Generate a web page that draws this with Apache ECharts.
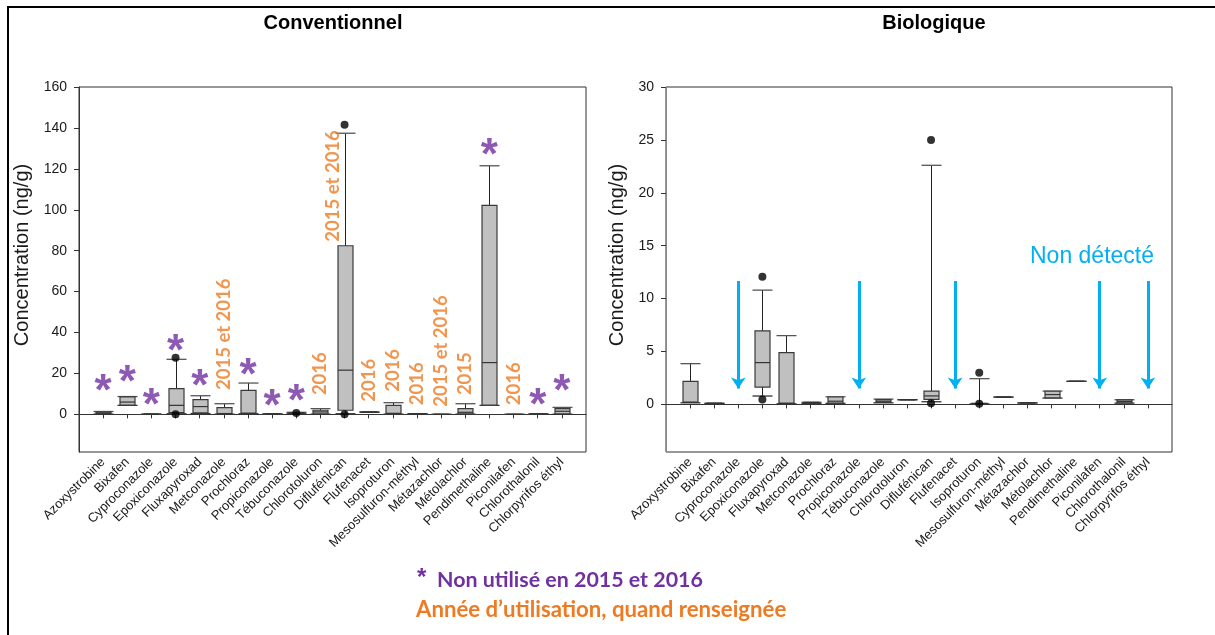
<!DOCTYPE html>
<html>
<head>
<meta charset="utf-8">
<script src="https://cdn.jsdelivr.net/npm/echarts@6/dist/echarts.min.js"></script>
<style>
  html, body { margin: 0; padding: 0; background: #fff; }
  #chart { width: 1215px; height: 635px; }
</style>
</head>
<body>
<div id="chart"></div>
<script>
// molécules, dans l'ordre de l'axe
var molecules = ['Azoxystrobine', 'Bixafen', 'Cyproconazole', 'Epoxiconazole', 'Fluxapyroxad',
  'Metconazole', 'Prochloraz', 'Propiconazole', 'Tébuconazole', 'Chlorotoluron', 'Diflufénican',
  'Flufenacet', 'Isoproturon', 'Mesosulfuron-méthyl', 'Métazachlor', 'Métolachlor',
  'Pendimethaline', 'Piconilafen', 'Chlorothalonil', 'Chlorpyrifos éthyl']

// [min, q1, médiane, q3, max] en ng/g
var convStats = [
  [0.1, 0.3, 0.6, 1.1, 1.4],
  [4.4, 4.5, 6.0, 8.5, 8.7],
  [0.1, 0.1, 0.1, 0.1, 0.1],
  [0.3, 0.8, 4.4, 12.6, 26.9],
  [0.4, 0.7, 3.8, 7.2, 9.1],
  [0.1, 0.2, 0.4, 3.3, 5.2],
  [0.3, 0.4, 0.6, 11.7, 15.3],
  [0.2, 0.2, 0.2, 0.2, 0.2],
  [0.3, 0.4, 0.6, 0.8, 1.0],
  [0.1, 0.3, 1.2, 2.0, 2.8],
  [0.3, 2.0, 21.6, 82.4, 137.4],
  [1.0, 1.0, 1.1, 1.2, 1.2],
  [0.1, 0.2, 0.5, 4.4, 5.7],
  [0.3, 0.3, 0.3, 0.3, 0.3],
  [0.0, 0.0, 0.0, 0.0, 0.0],
  [0.1, 0.2, 1.0, 2.8, 5.2],
  [4.4, 4.5, 25.3, 102.1, 121.5],
  [0.0, 0.0, 0.0, 0.0, 0.0],
  [0.1, 0.1, 0.2, 0.3, 0.3],
  [0.1, 0.3, 1.5, 2.8, 3.4]
]
var convOutliers = [['Epoxiconazole', 27.7], ['Epoxiconazole', 0.1], ['Tébuconazole', 0.7],
  ['Diflufénican', 141.5], ['Diflufénican', 0.0]]

// null = non détecté
var bioStats = [
  [0.15, 0.18, 0.22, 2.18, 3.85],
  [0.1, 0.1, 0.1, 0.1, 0.1],
  null,
  [0.79, 1.64, 3.95, 6.95, 10.8],
  [0.06, 0.08, 0.12, 4.9, 6.5],
  [0.1, 0.1, 0.15, 0.2, 0.2],
  [0.1, 0.12, 0.3, 0.7, 0.72],
  null,
  [0.15, 0.2, 0.3, 0.45, 0.5],
  [0.44, 0.44, 0.44, 0.44, 0.44],
  [0.25, 0.47, 0.8, 1.26, 22.6],
  null,
  [0.05, 0.06, 0.08, 0.1, 2.43],
  [0.69, 0.69, 0.69, 0.69, 0.69],
  [0.14, 0.14, 0.14, 0.14, 0.14],
  [0.6, 0.62, 0.93, 1.24, 1.26],
  [2.18, 2.18, 2.18, 2.18, 2.18],
  null,
  [0.12, 0.14, 0.28, 0.42, 0.44],
  null
]
var bioOutliers = [['Epoxiconazole', 12.06], ['Epoxiconazole', 0.47], ['Diflufénican', 25.0],
  ['Diflufénican', 0.1], ['Isoproturon', 3.0], ['Isoproturon', 0.05]]

// annotations
var unusedCats = ['Azoxystrobine', 'Bixafen', 'Cyproconazole', 'Epoxiconazole', 'Fluxapyroxad',
  'Prochloraz', 'Propiconazole', 'Tébuconazole', 'Pendimethaline', 'Chlorothalonil', 'Chlorpyrifos éthyl']
var unusedY = [15.2, 20, 8.6, 34.7, 17.6, 23, 8.3, 10.3, 130.9, 8.6, 15.2]

var yearCats = ['Metconazole', 'Chlorotoluron', 'Diflufénican', 'Flufenacet', 'Isoproturon',
  'Mesosulfuron-méthyl', 'Métazachlor', 'Métolachlor', 'Piconilafen']
var yearY = [11.9, 9.4, 84.4, 6.2, 11.0, 4.5, 3.7, 9.4, 4.5]
var yearText = ['2015 et 2016', '2016', '2015 et 2016', '2016', '2016', '2016', '2015 et 2016', '2015', '2016']

var notDetected = ['Cyproconazole', 'Propiconazole', 'Flufenacet', 'Piconilafen', 'Chlorpyrifos éthyl']
var arrowTop = 11.67
var arrowTip = 1.51

var convTicks = [0, 20, 40, 60, 80, 100, 120, 140, 160]
var bioTicks = [0, 5, 10, 15, 20, 25, 30]

// deux catégories vides aux bords pour le décalage du cadre
var axisCats = [' '].concat(molecules, ['  '])

var purple = '#7030A0'
var orange = '#EE7A22'
var blue = '#00B0F0'

function boxData(stats) {
  var out = []
  stats.forEach(function (s, i) {
    if (s) out.push([molecules[i]].concat(s))
  })
  return out
}

function renderBox(params, api) {
  var x = api.value(0)
  var p = [1, 2, 3, 4, 5].map(function (d) { return api.coord([x, api.value(d)]) })
  var cx = Math.round(p[0][0]) + 0.5
  var half = 7.5
  var cap = 10
  return {
    type: 'group',
    children: [
      { type: 'line', shape: { x1: cx, y1: p[4][1], x2: cx, y2: p[0][1] }, style: { stroke: '#222', lineWidth: 1 } },
      { type: 'line', shape: { x1: cx - cap, y1: p[4][1], x2: cx + cap, y2: p[4][1] }, style: { stroke: '#555', lineWidth: 1.3 } },
      { type: 'line', shape: { x1: cx - cap, y1: p[0][1], x2: cx + cap, y2: p[0][1] }, style: { stroke: '#333', lineWidth: 1.3 } },
      {
        type: 'rect',
        shape: { x: cx - half, y: p[3][1], width: half * 2, height: Math.max(p[1][1] - p[3][1], 0) },
        style: { fill: '#C0C0C0', stroke: '#3a3a3a', lineWidth: 1.2 }
      },
      { type: 'line', shape: { x1: cx - half, y1: p[2][1], x2: cx + half, y2: p[2][1] }, style: { stroke: '#333', lineWidth: 1.2 } }
    ]
  }
}

function catAxis(gridIndex) {
  return {
    type: 'category',
    gridIndex: gridIndex,
    data: axisCats,
    boundaryGap: false,
    axisLine: { lineStyle: { color: '#333' } },
    axisTick: {
      interval: function (i, v) { return v.trim() !== '' },
      length: 4,
      lineStyle: { color: '#333' }
    },
    axisLabel: {
      interval: 0,
      rotate: 45,
      margin: 8,
      fontSize: 13,
      color: '#1a1a1a',
      fontFamily: 'Liberation Sans'
    },
    splitLine: { show: false }
  }
}

function valAxis(gridIndex, min, max, ticks, lineColor) {
  return {
    type: 'value',
    gridIndex: gridIndex,
    min: min,
    max: max,
    axisLine: { show: true, lineStyle: { color: lineColor } },
    axisTick: { show: true, customValues: ticks, length: 5, lineStyle: { color: '#333' } },
    axisLabel: { customValues: ticks, margin: 12, fontSize: 14, color: '#1a1a1a', fontFamily: 'Liberation Sans' },
    splitLine: { show: false }
  }
}

var chart = echarts.init(document.getElementById('chart'))

chart.setOption({
  backgroundColor: '#fff',
  animation: false,
  grid: [
    { left: 79, top: 87, width: 507, height: 365, show: true, borderColor: '#333', borderWidth: 1 },
    { left: 666, top: 87, width: 506, height: 365, show: true, borderColor: '#333', borderWidth: 1 }
  ],
  xAxis: [catAxis(0), catAxis(1)],
  yAxis: [
    valAxis(0, -18.4, 160, convTicks, '#333'),
    valAxis(1, -4.5, 30, bioTicks, '#888')
  ],
  graphic: [
    { type: 'rect', shape: { x: 8, y: 7, width: 1215, height: 640 }, style: { fill: 'none', stroke: '#000', lineWidth: 2 }, silent: true },
    { type: 'text', x: 333, y: 23, style: { text: 'Conventionnel', align: 'center', verticalAlign: 'middle', font: 'bold 20px "Liberation Sans"', fill: '#000' } },
    { type: 'text', x: 934, y: 23, style: { text: 'Biologique', align: 'center', verticalAlign: 'middle', font: 'bold 20px "Liberation Sans"', fill: '#000' } },
    { type: 'text', x: 22, y: 255, rotation: Math.PI / 2, style: { text: 'Concentration (ng/g)', align: 'center', verticalAlign: 'middle', font: '20px "Liberation Sans"', fill: '#1a1a1a' } },
    { type: 'text', x: 617, y: 255, rotation: Math.PI / 2, style: { text: 'Concentration (ng/g)', align: 'center', verticalAlign: 'middle', font: '20px "Liberation Sans"', fill: '#1a1a1a' } },
    { type: 'text', x: 1092, y: 257, style: { text: 'Non détecté', align: 'center', verticalAlign: 'middle', font: '23px "Liberation Sans"', fill: blue } },
    { type: 'text', x: 417, y: 578, style: { text: '*', align: 'left', verticalAlign: 'middle', font: 'bold 24px "Liberation Sans"', fill: purple } },
    { type: 'text', x: 437, y: 580, style: { text: 'Non utilisé en 2015 et 2016', align: 'left', verticalAlign: 'middle', font: 'bold 21.4px Lato', fill: purple } },
    { type: 'text', x: 416, y: 610, style: { text: 'Année d’utilisation, quand renseignée', align: 'left', verticalAlign: 'middle', font: 'bold 22.2px Lato', fill: orange } }
  ],
  series: [
    {
      type: 'custom',
      xAxisIndex: 0,
      yAxisIndex: 0,
      renderItem: renderBox,
      encode: { x: 0, y: [1, 2, 3, 4, 5] },
      data: boxData(convStats),
      z: 3
    },
    {
      type: 'scatter',
      xAxisIndex: 0,
      yAxisIndex: 0,
      symbolSize: 8,
      itemStyle: { color: '#000' },
      data: convOutliers,
      z: 4
    },
    {
      type: 'scatter',
      xAxisIndex: 0,
      yAxisIndex: 0,
      symbolSize: 1,
      itemStyle: { color: 'rgba(0,0,0,0)' },
      silent: true,
      label: {
        show: true,
        position: 'inside',
        formatter: '*',
        fontSize: 44,
        fontWeight: 'bold',
        fontFamily: 'Liberation Sans',
        color: purple,
        offset: [0, 10]
      },
      data: unusedCats.map(function (c, i) { return [c, unusedY[i]] }),
      z: 5
    },
    {
      type: 'scatter',
      xAxisIndex: 0,
      yAxisIndex: 0,
      symbolSize: 1,
      itemStyle: { color: 'rgba(0,0,0,0)' },
      silent: true,
      label: {
        show: true,
        position: 'inside',
        rotate: 90,
        align: 'left',
        verticalAlign: 'middle',
        formatter: function (p) { return p.name },
        fontSize: 18.5,
        fontWeight: 'bold',
        fontFamily: 'Lato',
        color: orange
      },
      data: yearCats.map(function (c, i) {
        var item = { name: yearText[i], value: [c, yearY[i]] }
        // le texte est tourné : le décalage se donne dans son repère
        if (c === 'Diflufénican') item.label = { offset: [0, -12] }
        return item
      }),
      z: 5
    },
    {
      type: 'custom',
      xAxisIndex: 1,
      yAxisIndex: 1,
      renderItem: renderBox,
      encode: { x: 0, y: [1, 2, 3, 4, 5] },
      data: boxData(bioStats),
      z: 3
    },
    {
      type: 'scatter',
      xAxisIndex: 1,
      yAxisIndex: 1,
      symbolSize: 8,
      itemStyle: { color: '#000' },
      data: bioOutliers,
      z: 4
    },
    {
      type: 'lines',
      coordinateSystem: 'cartesian2d',
      xAxisIndex: 1,
      yAxisIndex: 1,
      symbol: ['none', 'arrow'],
      symbolSize: 11,
      lineStyle: { color: blue, width: 3, opacity: 1 },
      data: notDetected.map(function (c) {
        var idx = axisCats.indexOf(c)
        return { coords: [[idx, arrowTop], [idx, arrowTip]] }
      }),
      z: 4
    }
  ]
})
</script>
</body>
</html>
